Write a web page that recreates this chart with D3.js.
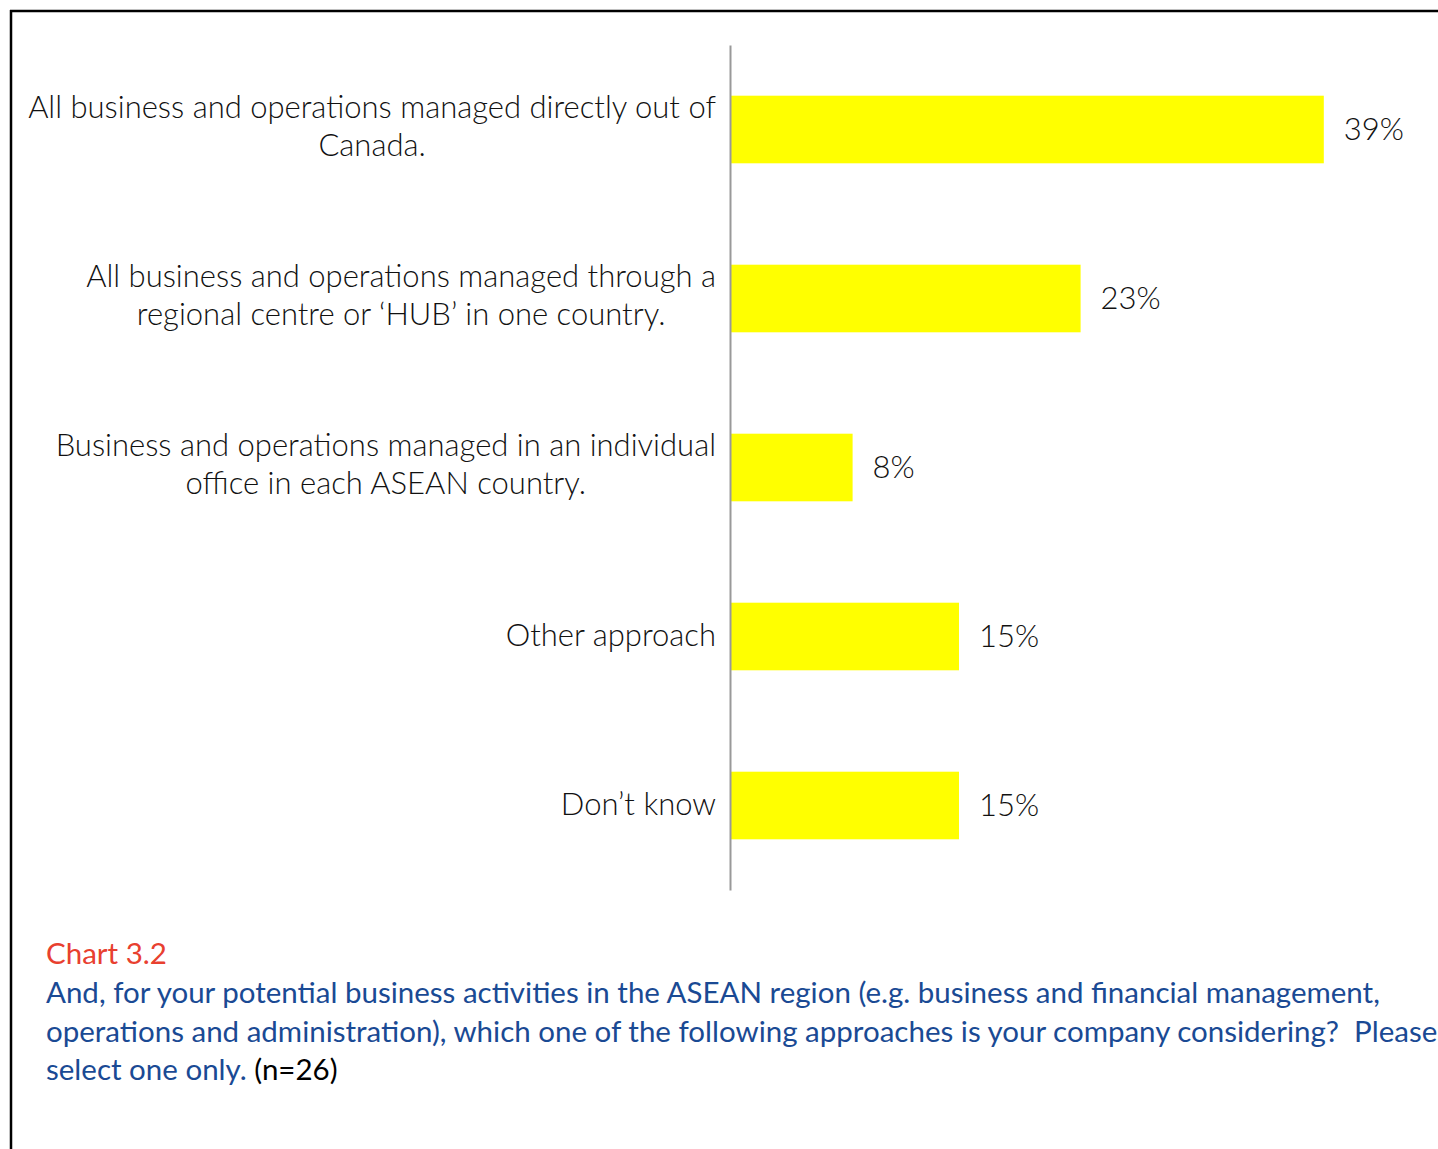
<!DOCTYPE html>
<html>
<head>
<meta charset="utf-8">
<script src="https://cdn.jsdelivr.net/npm/d3@7"></script>
<style>
  html, body { margin: 0; padding: 0; background: #fff; overflow: hidden; }
  svg { display: block; }
</style>
</head>
<body>
<svg id="chart" width="1438" height="1149"></svg>
<script>
// Share of respondents choosing each approach (%), n = 26
const categoryLines = [
  ["All business and operations managed directly out of", "Canada."],
  ["All business and operations managed through a", "regional centre or \u2018HUB\u2019 in one country."],
  ["Business and operations managed in an individual", "office in each ASEAN country."],
  ["Other approach"],
  ["Don\u2019t know"]
];
const percents = [39, 23, 8, 15, 15];

const captionTitle = "Chart 3.2";
const captionLines = [
  "And, for your potential business activities in the ASEAN region (e.g. business and financial management,",
  "operations and administration), which one of the following approaches is your company considering?\u00A0 Please",
  "select one only."
];
const captionNote = "(n=26)";

const W = 1438, H = 1149;
const svg = d3.select("#chart");
const font = "Lato, 'Open Sans', sans-serif";

const data = categoryLines.map((lines, i) => ({
  key: "c" + i,
  lines,
  pct: percents[i]
}));

// Frame
svg.append("line").attr("x1", 10).attr("x2", W).attr("y1", 11).attr("y2", 11)
  .attr("stroke", "#000").attr("stroke-width", 2.5);
svg.append("line").attr("x1", 11).attr("x2", 11).attr("y1", 10).attr("y2", H)
  .attr("stroke", "#000").attr("stroke-width", 2.5);

// Scales
const y = d3.scaleBand().domain(data.map(d => d.key)).range([45, 890])
  .paddingInner(0.6).paddingOuter(0.3);
const x = d3.scaleLinear().domain([0, 45]).range([731, 731 + 45 * 15.2]);

// Bars
svg.append("g").selectAll("rect").data(data).join("rect")
  .attr("x", x(0))
  .attr("y", d => y(d.key))
  .attr("width", d => x(d.pct) - x(0))
  .attr("height", y.bandwidth())
  .attr("fill", "#ffff00");

// Vertical category axis (domain line only)
const axis = svg.append("g").attr("transform", "translate(730,0)")
  .call(d3.axisLeft(y).tickSize(0).tickFormat(""));
axis.select(".domain").attr("stroke", "#999").attr("stroke-width", 2);
axis.selectAll(".tick").remove();

// Value labels
svg.append("g").selectAll("text").data(data).join("text")
  .attr("x", d => x(d.pct) + 20)
  .attr("y", d => y(d.key) + y.bandwidth() / 2 - 2)
  .attr("dominant-baseline", "central")
  .attr("font-family", font).attr("font-weight", 300)
  .attr("font-size", 31).attr("fill", "#111")
  .text(d => d.pct + "%");

// Category labels: centred blocks whose right edge sits next to the axis
const catSize = 31, lineGap = 38, rightEdge = 716;
const catG = svg.append("g");
data.forEach(d => {
  const cy = y(d.key) + y.bandwidth() / 2 - (d.lines.length > 1 ? 5 : 3);
  const t = catG.append("text")
    .attr("font-family", font).attr("font-weight", 300)
    .attr("font-size", catSize).attr("fill", "#111")
    .attr("text-anchor", "middle").attr("dominant-baseline", "central");
  const n = d.lines.length;
  const spans = d.lines.map((ln, i) => t.append("tspan")
    .attr("y", cy + (i - (n - 1) / 2) * lineGap).text(ln));
  const maxW = d3.max(spans, s => s.node().getComputedTextLength());
  spans.forEach(s => s.attr("x", rightEdge - maxW / 2));
});

// Caption
const capSize = 29.5;
svg.append("text").attr("x", 46).attr("y", 964)
  .attr("font-family", font).attr("font-size", capSize)
  .attr("fill", "#e8402f").text(captionTitle);
const capG = svg.append("g");
captionLines.forEach((ln, i) => {
  const t = capG.append("text").attr("x", 46).attr("y", 1003 + i * 38.5)
    .attr("font-family", font).attr("font-size", capSize).attr("fill", "#1a4a94");
  t.append("tspan").text(ln);
  if (i === captionLines.length - 1) {
    t.append("tspan").attr("fill", "#000").text(" " + captionNote);
  }
});
</script>
</body>
</html>
